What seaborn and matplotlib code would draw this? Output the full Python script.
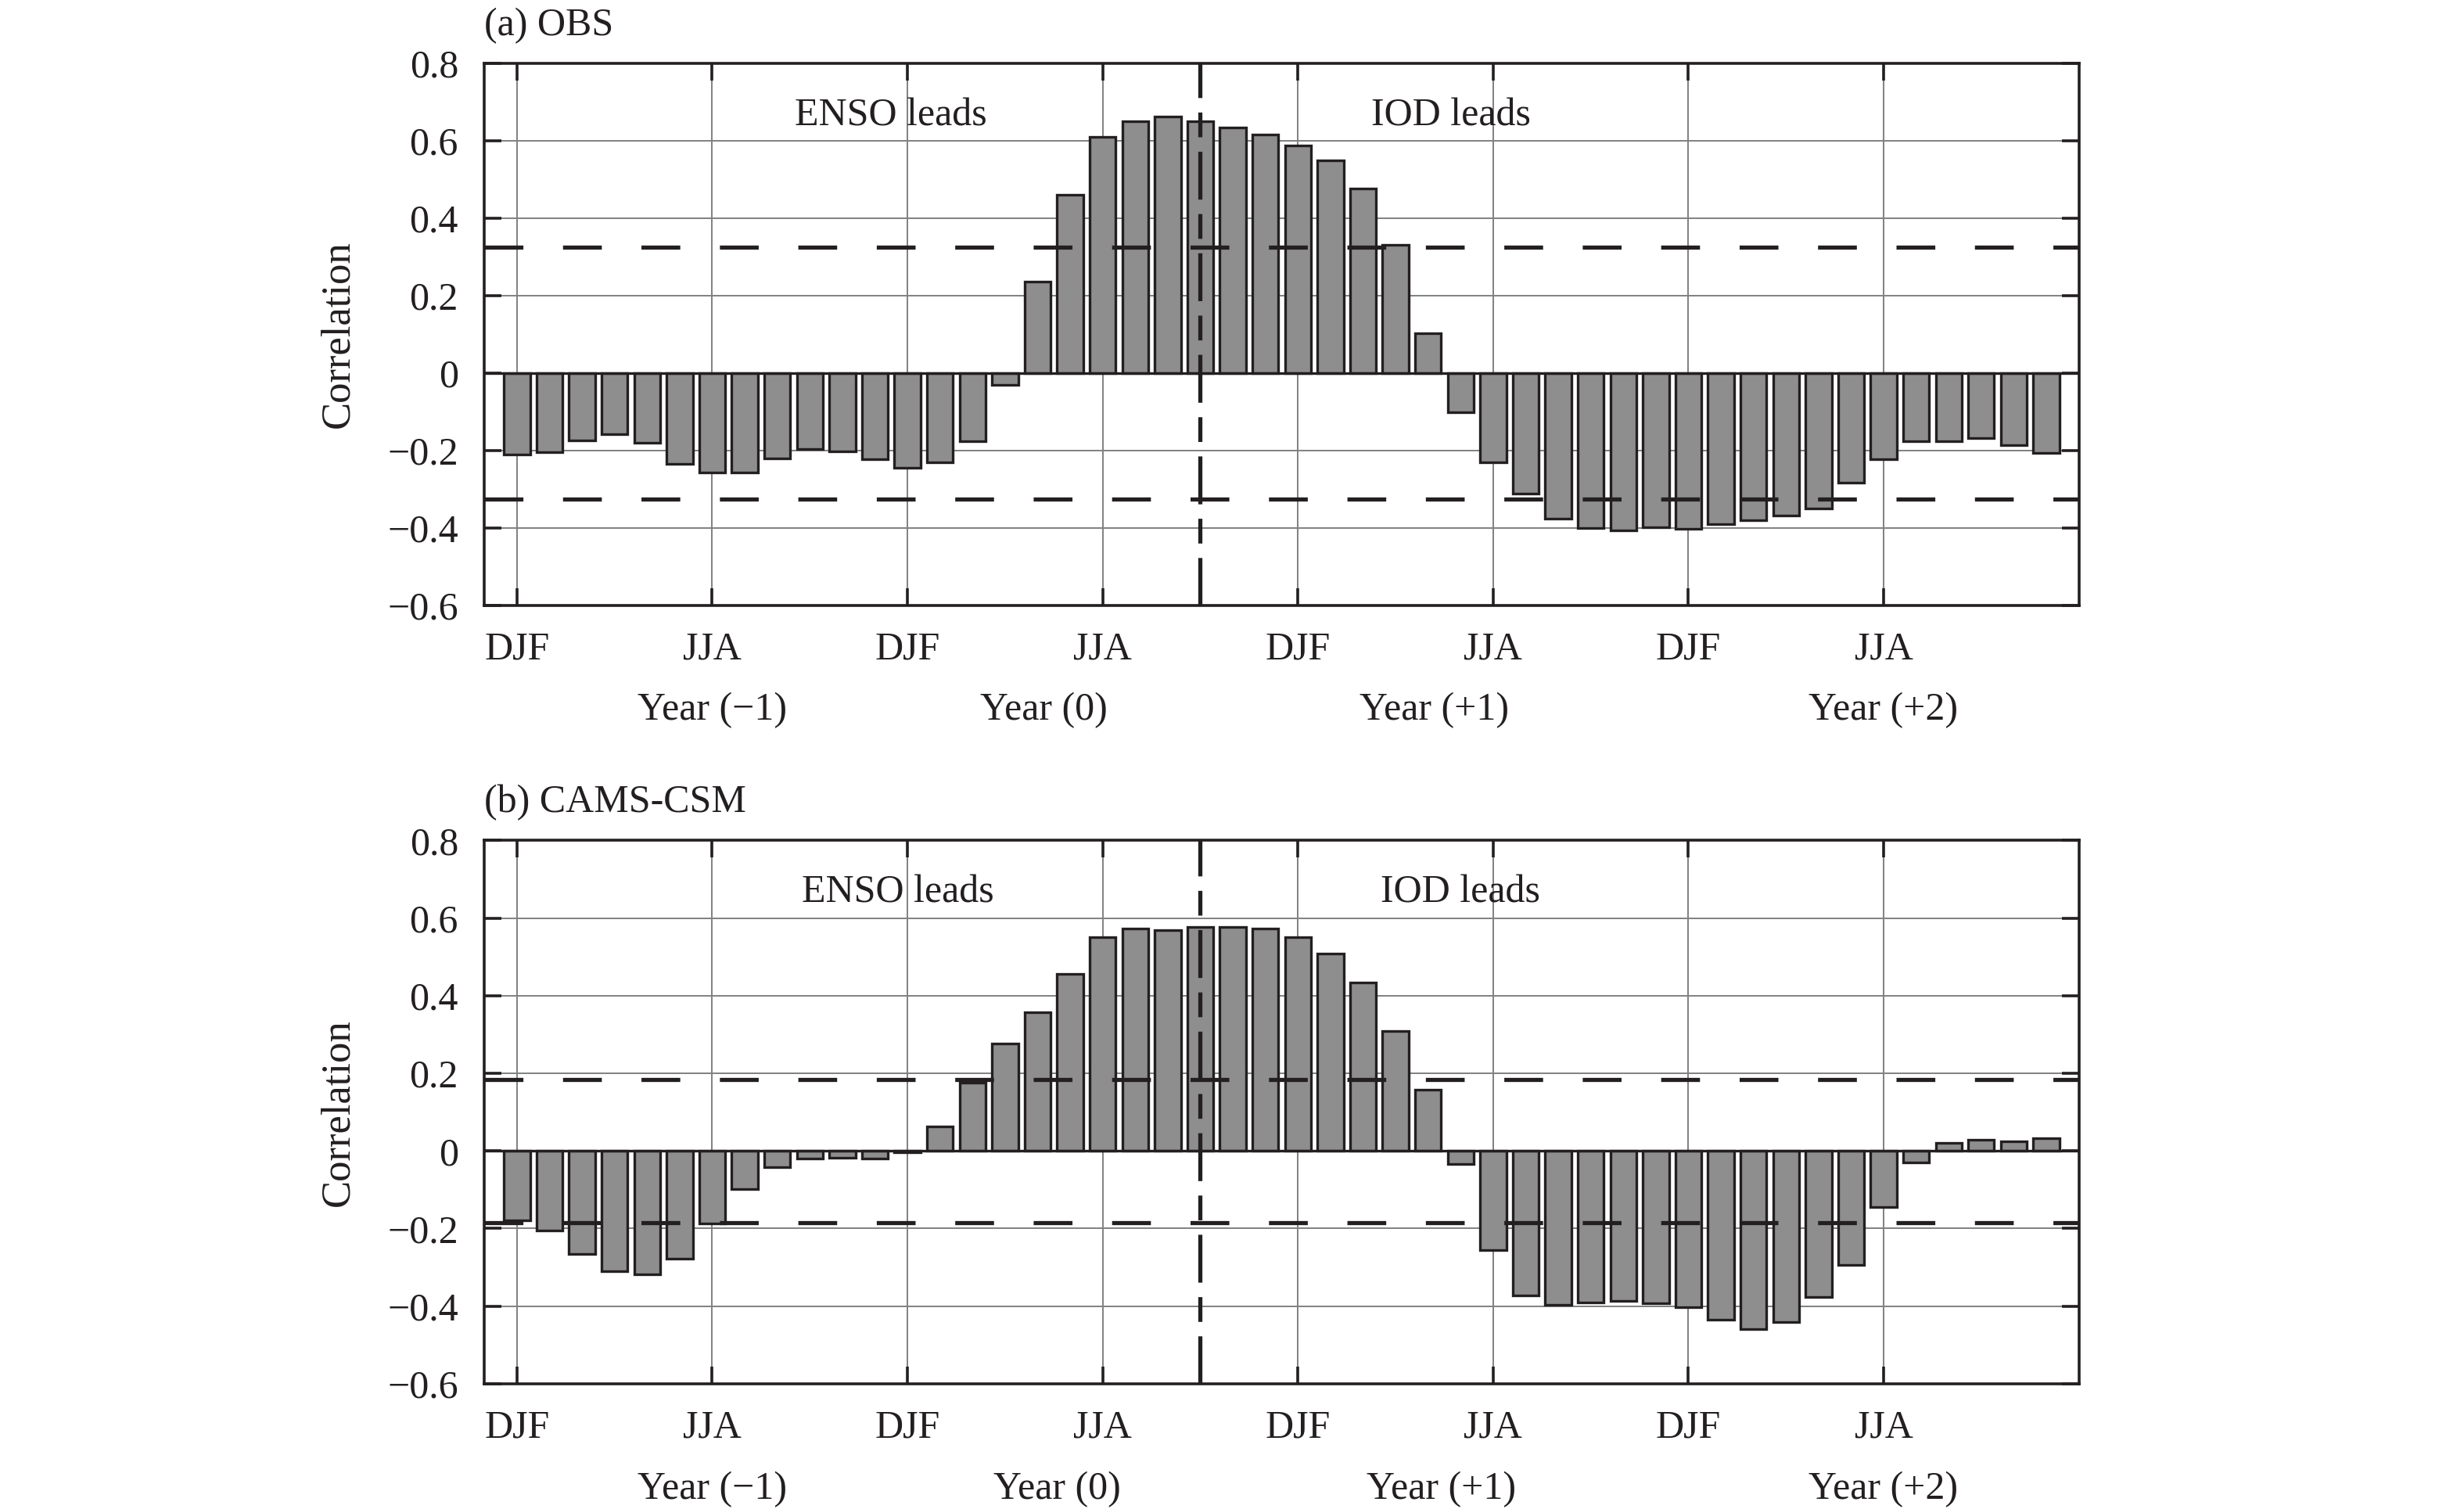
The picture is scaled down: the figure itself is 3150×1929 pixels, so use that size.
import numpy as np
import pandas as pd
import matplotlib
matplotlib.use("Agg")
import matplotlib.pyplot as plt
import matplotlib.transforms as mtransforms
import seaborn as sns

# ---------------- data ----------------
lag_index = list(range(48))
obs_corr = [-0.210, -0.205, -0.175, -0.158, -0.180, -0.235, -0.257, -0.257, -0.220, -0.196,
            -0.202, -0.222, -0.245, -0.232, -0.176, -0.030, 0.236, 0.461, 0.610, 0.651,
            0.663, 0.651, 0.635, 0.617, 0.587, 0.549, 0.477, 0.332, 0.103, -0.101,
            -0.232, -0.312, -0.377, -0.400, -0.407, -0.398, -0.402, -0.390, -0.380, -0.368,
            -0.350, -0.284, -0.223, -0.177, -0.177, -0.169, -0.187, -0.207]
cams_corr = [-0.178, -0.205, -0.266, -0.309, -0.317, -0.277, -0.186, -0.098, -0.041, -0.020,
             -0.018, -0.020, -0.003, 0.064, 0.176, 0.277, 0.357, 0.456, 0.551, 0.574,
             0.570, 0.578, 0.578, 0.574, 0.550, 0.509, 0.434, 0.309, 0.158, -0.033,
             -0.255, -0.372, -0.396, -0.390, -0.387, -0.392, -0.402, -0.434, -0.459, -0.440,
             -0.376, -0.293, -0.145, -0.030, 0.021, 0.028, 0.025, 0.033]
sig_obs = 0.325
sig_cams = 0.185
lag0_index = 21
season_ticks = [0, 6, 12, 18, 24, 30, 36, 42]
season_labels = ["DJF", "JJA", "DJF", "JJA", "DJF", "JJA", "DJF", "JJA"]
year_labels = ["Year (\u22121)", "Year (0)", "Year (+1)", "Year (+2)"]
year_pos_a = [6.0, 16.2, 28.2, 42.0]
year_pos_b = [6.0, 16.6, 28.4, 42.0]
lead_labels = ["ENSO leads", "IOD leads"]
lead_pos_a = [11.5, 28.7]
lead_pos_b = [11.7, 29.0]
yticks = [-0.6, -0.4, -0.2, 0.0, 0.2, 0.4, 0.6, 0.8]
ytick_labels = ["\u22120.6", "\u22120.4", "\u22120.2", "0", "0.2", "0.4", "0.6", "0.8"]
panel_titles = ["(a) OBS", "(b) CAMS-CSM"]

# ---------------- style ----------------
sns.set_theme(style="white")
plt.rcParams["font.family"] = ["Liberation Serif", "DejaVu Serif"]
plt.rcParams["axes.unicode_minus"] = True

FS = 18
bar_face = "#8f8e8f"
ink = "#231f20"
grid_c = "#808080"

fig = plt.figure(figsize=(15.75, 9.645), dpi=200)
ax_a = fig.add_axes([0.1966, 0.599, 0.6471, 0.359])
ax_b = fig.add_axes([0.1966, 0.083, 0.6471, 0.360])


def draw_panel(ax, vals, sig, title, year_pos, lead_pos):
    df = pd.DataFrame({"lag": lag_index, "corr": vals})
    ax.set_axisbelow(True)
    sns.barplot(data=df, x="lag", y="corr", ax=ax, color=bar_face, saturation=1,
                edgecolor=ink, linewidth=1.2, width=0.8, native_scale=True,
                errorbar=None, zorder=2)
    ax.set_xlim(-1, 48)
    ax.set_ylim(-0.6, 0.8)
    ax.set_xticks(season_ticks)
    ax.set_xticklabels(season_labels, fontsize=FS)
    ax.set_yticks(yticks)
    ax.set_yticklabels(ytick_labels, fontsize=FS)
    ax.grid(True, color=grid_c, linewidth=0.7, zorder=0)
    ax.tick_params(axis="both", which="major", direction="in", top=True, right=True,
                   bottom=True, left=True, length=8, width=1.3, color=ink, labelcolor=ink)
    ax.tick_params(axis="x", pad=12)
    ax.tick_params(axis="y", pad=12)
    for sp in ax.spines.values():
        sp.set_visible(True)
        sp.set_color(ink)
        sp.set_linewidth(1.3)
    ax.axhline(0, color=ink, linewidth=1.2, zorder=3)
    for s in (sig, -sig):
        ax.axhline(s, color=ink, linewidth=1.9, linestyle=(0, (9.4, 9.6)), zorder=4)
    ax.axvline(lag0_index, color=ink, linewidth=1.9, linestyle=(0, (11.6, 3.5, 6.0, 3.5)), zorder=4)
    ax.set_xlabel("")
    ax.set_ylabel("Correlation", fontsize=FS + 1, color=ink)
    ax.yaxis.set_label_coords(-0.08, 0.5)
    ax.set_title(title, loc="left", fontsize=FS, color=ink, pad=13)
    for xp, lab in zip(lead_pos, lead_labels):
        ax.text(xp, 0.665, lab, fontsize=FS, color=ink, ha="center", va="center", zorder=5)
    trans = mtransforms.blended_transform_factory(ax.transData, ax.transAxes)
    for xp, lab in zip(year_pos, year_labels):
        ax.text(xp, -0.194, lab, transform=trans, fontsize=FS, color=ink,
                ha="center", va="center")


draw_panel(ax_a, obs_corr, sig_obs, panel_titles[0], year_pos_a, lead_pos_a)
draw_panel(ax_b, cams_corr, sig_cams, panel_titles[1], year_pos_b, lead_pos_b)

fig.savefig("out.png", dpi=200, facecolor="white")
